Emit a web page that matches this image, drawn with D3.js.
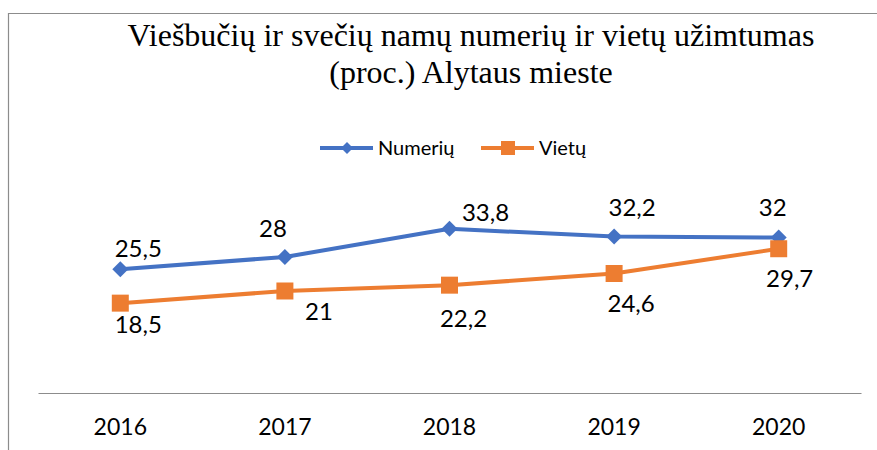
<!DOCTYPE html>
<html>
<head>
<meta charset="utf-8">
<script src="https://cdn.jsdelivr.net/npm/d3@7"></script>
<style>
  body { margin: 0; background: #fff; }
  svg { display: block; }
</style>
</head>
<body>
<div id="chart"></div>
<script>
var years = ["2016", "2017", "2018", "2019", "2020"];
var numeriu = [25.5, 28, 33.8, 32.2, 32];
var vietu = [18.5, 21, 22.2, 24.6, 29.7];
var seriesNames = ["Numerių", "Vietų"];
var titleLines = ["Viešbučių ir svečių namų numerių ir vietų užimtumas", "(proc.) Alytaus mieste"];

// label nudges (px) as placed in the original
var blueLabelShift = [[18, -12], [-12, -20], [36, -8], [18, -21], [-6, -22]];
var orangeLabelShift = [[18, 30], [34, 29], [14, 42], [17, 38], [11, 38]];

var svgWidth = 877;
var svgHeight = 450;
var blue = "#4472C4";
var orange = "#ED7D31";

var svg = d3.select("#chart").append("svg")
    .attr("width", svgWidth)
    .attr("height", svgHeight);

// chart border (cut off on right and bottom)
svg.append("path")
    .attr("d", "M8.5,460 V13.5 H890")
    .attr("fill", "none")
    .attr("stroke", "#8c8c8c")
    .attr("stroke-width", 1.2);

var x = d3.scaleBand()
    .domain(years)
    .range([38, 861]);

var y = d3.scaleLinear()
    .domain([0, 40])
    .range([393, 198.7]);

// title
svg.append("g").selectAll("text")
    .data(titleLines)
    .enter()
    .append("text")
    .attr("x", 471)
    .attr("y", (d, i) => 46 + i * 37)
    .attr("text-anchor", "middle")
    .attr("font-family", "Liberation Serif, Times New Roman, serif")
    .attr("font-size", "32px")
    .attr("fill", "#000")
    .text(d => d);

// axis
var xAxis = svg.append("g")
    .attr("transform", "translate(0,393)")
    .call(d3.axisBottom(x).tickSize(0).tickPadding(26));
xAxis.select(".domain").attr("stroke", "#8c8c8c").attr("stroke-width", 1.2);
xAxis.selectAll("text")
    .attr("font-family", "Lato, sans-serif")
    .attr("font-size", "23px")
    .attr("fill", "#000");

var line = d3.line()
    .x((d, i) => x(years[i]) + x.bandwidth() / 2)
    .y(d => y(d));

function drawSeries(values, color, marker, shifts) {
    var g = svg.append("g");
    g.append("path")
        .datum(values)
        .attr("d", line)
        .attr("fill", "none")
        .attr("stroke", color)
        .attr("stroke-width", 4)
        .attr("stroke-linejoin", "round");

    g.selectAll(".marker")
        .data(values)
        .enter()
        .append("path")
        .attr("class", "marker")
        .attr("transform", (d, i) => `translate(${x(years[i]) + x.bandwidth() / 2},${y(d)})`)
        .attr("d", marker)
        .attr("fill", color);

    g.selectAll(".lbl")
        .data(values)
        .enter()
        .append("text")
        .attr("class", "lbl")
        .attr("x", (d, i) => x(years[i]) + x.bandwidth() / 2 + shifts[i][0])
        .attr("y", (d, i) => y(d) + shifts[i][1])
        .attr("text-anchor", "middle")
        .attr("font-family", "Lato, sans-serif")
        .attr("font-size", "24px")
        .attr("fill", "#000")
        .text(d => String(d).replace(".", ","));
}

var diamond = "M0,-8 L8,0 L0,8 L-8,0 Z";
var square = "M-8.5,-8.5 H8.5 V8.5 H-8.5 Z";

drawSeries(numeriu, blue, diamond, blueLabelShift);
drawSeries(vietu, orange, square, orangeLabelShift);

// legend
var legendItems = [
    { name: seriesNames[0], color: blue, marker: "M0,-6 L6,0 L0,6 L-6,0 Z", x: 320 },
    { name: seriesNames[1], color: orange, marker: "M-7,-7 H7 V7 H-7 Z", x: 481 }
];
var legend = svg.append("g").selectAll("g")
    .data(legendItems)
    .enter()
    .append("g")
    .attr("transform", d => `translate(${d.x},148)`);
legend.append("line")
    .attr("x1", 0).attr("x2", 53)
    .attr("stroke", d => d.color)
    .attr("stroke-width", 4);
legend.append("path")
    .attr("transform", "translate(27,0)")
    .attr("d", d => d.marker)
    .attr("fill", d => d.color);
legend.append("text")
    .attr("x", 58)
    .attr("y", 7)
    .attr("font-family", "Lato, sans-serif")
    .attr("font-size", "20px")
    .attr("fill", "#000")
    .text(d => d.name);
</script>
</body>
</html>
